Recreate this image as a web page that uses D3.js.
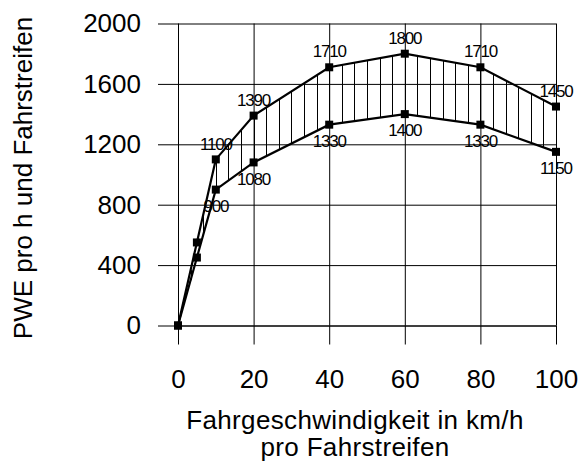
<!DOCTYPE html>
<html>
<head>
<meta charset="utf-8">
<script src="https://cdn.jsdelivr.net/npm/d3@7/dist/d3.min.js"></script>
<style>
  body { margin: 0; background: #fff; }
  text { font-family: "Liberation Sans", Arial, sans-serif; fill: #000; }
  .grid line { stroke: #000; stroke-width: 1; }
  .grid .domain { display: none; }
  .axis .domain { stroke: #000; }
  .axis line { stroke: #000; }
</style>
</head>
<body>
<div id="chart"></div>
<script>
// PWE pro h und Fahrstreifen vs. Fahrgeschwindigkeit
var speeds = [0, 5, 10, 20, 40, 60, 80, 100];
var upper  = [0, 550, 1100, 1390, 1710, 1800, 1710, 1450];
var lower  = [0, 450, 900, 1080, 1330, 1400, 1330, 1150];
var xTicks = [0, 20, 40, 60, 80, 100];
var yTicks = [0, 400, 800, 1200, 1600, 2000];

(function () {
var width = 578, height = 464;
var pl = 178, pr = 556, pt = 23.5, pb = 325.5;

var x = d3.scaleLinear().domain([0, 100]).range([pl, pr]);
var y = d3.scaleLinear().domain([0, 2000]).range([pb, pt]);

var svg = d3.select("#chart").append("svg")
    .attr("width", width)
    .attr("height", height);

// grid
svg.append("g")
    .attr("class", "grid")
    .attr("transform", "translate(" + pl + ",0)")
    .call(d3.axisLeft(y).tickValues(yTicks).tickSize(-(pr - pl)).tickFormat(""));

svg.append("g")
    .attr("class", "grid")
    .attr("transform", "translate(0," + pb + ")")
    .call(d3.axisBottom(x).tickValues(xTicks).tickSize(-(pb - pt)).tickFormat(""));

// axes
svg.append("g")
    .attr("class", "axis")
    .attr("transform", "translate(" + pl + ",0)")
    .call(d3.axisLeft(y).tickValues(yTicks).tickFormat(d3.format("d"))
      .tickSizeInner(20).tickSizeOuter(0).tickPadding(17))
    .selectAll("text")
    .style("font-size", "26px")
    .style("font-family", "'Liberation Sans', Arial, sans-serif");

svg.append("g")
    .attr("class", "axis")
    .attr("transform", "translate(0," + pb + ")")
    .call(d3.axisBottom(x).tickValues(xTicks).tickSizeInner(19).tickSizeOuter(0).tickPadding(25))
    .selectAll("text")
    .style("font-size", "26px")
    .style("font-family", "'Liberation Sans', Arial, sans-serif");

// hatching between the two curves
var upAt = d3.scaleLinear().domain(speeds).range(upper);
var loAt = d3.scaleLinear().domain(speeds).range(lower);
var hatchX = d3.range(0, 100.001, 10 / 3);

svg.append("g")
  .selectAll("line")
  .data(hatchX)
  .join("line")
    .attr("x1", function(d) { return Math.round(x(d)) + 0.5; })
    .attr("x2", function(d) { return Math.round(x(d)) + 0.5; })
    .attr("y1", function(d) { return y(upAt(d)); })
    .attr("y2", function(d) { return y(loAt(d)); })
    .attr("stroke", "#000")
    .attr("stroke-width", 1);

var line = d3.line()
    .x(function(d) { return x(d[0]); })
    .y(function(d) { return y(d[1]); });

[upper, lower].forEach(function(vals, si) {
  var pts = speeds.map(function(s, i) { return [s, vals[i]]; });

  svg.append("path")
      .datum(pts)
      .attr("fill", "none")
      .attr("stroke", "#000")
      .attr("stroke-width", 2.2)
      .attr("d", line);

  svg.append("g")
    .selectAll("rect")
    .data(pts)
    .join("rect")
      .attr("x", function(d) { return x(d[0]) - 4; })
      .attr("y", function(d) { return y(d[1]) - 4; })
      .attr("width", 8)
      .attr("height", 8)
      .attr("fill", "#000");

  svg.append("g")
    .selectAll("text")
    .data(pts.filter(function(d) { return d[0] >= 10; }))
    .join("text")
      .attr("x", function(d) { return x(d[0]); })
      .attr("y", function(d) { return y(d[1]) + (si === 0 ? -16 : 16); })
      .attr("dy", "0.36em")
      .attr("text-anchor", "middle")
      .style("font-size", "17px")
      .style("letter-spacing", "-1.2px")
      .text(function(d) { return d[1]; });
});

// axis titles
svg.append("text")
    .attr("transform", "translate(23,178) rotate(-90)")
    .attr("text-anchor", "middle")
    .attr("dy", "0.35em")
    .style("font-size", "26px")
    .text("PWE pro h und Fahrstreifen");

svg.append("text")
    .attr("x", 355)
    .attr("y", 420)
    .attr("dy", "0.35em")
    .attr("text-anchor", "middle")
    .style("font-size", "26px")
    .style("letter-spacing", "0.35px")
    .text("Fahrgeschwindigkeit in km/h");

svg.append("text")
    .attr("x", 355)
    .attr("y", 447)
    .attr("dy", "0.35em")
    .attr("text-anchor", "middle")
    .style("font-size", "26px")
    .style("letter-spacing", "0.35px")
    .text("pro Fahrstreifen");
})();
</script>
</body>
</html>
